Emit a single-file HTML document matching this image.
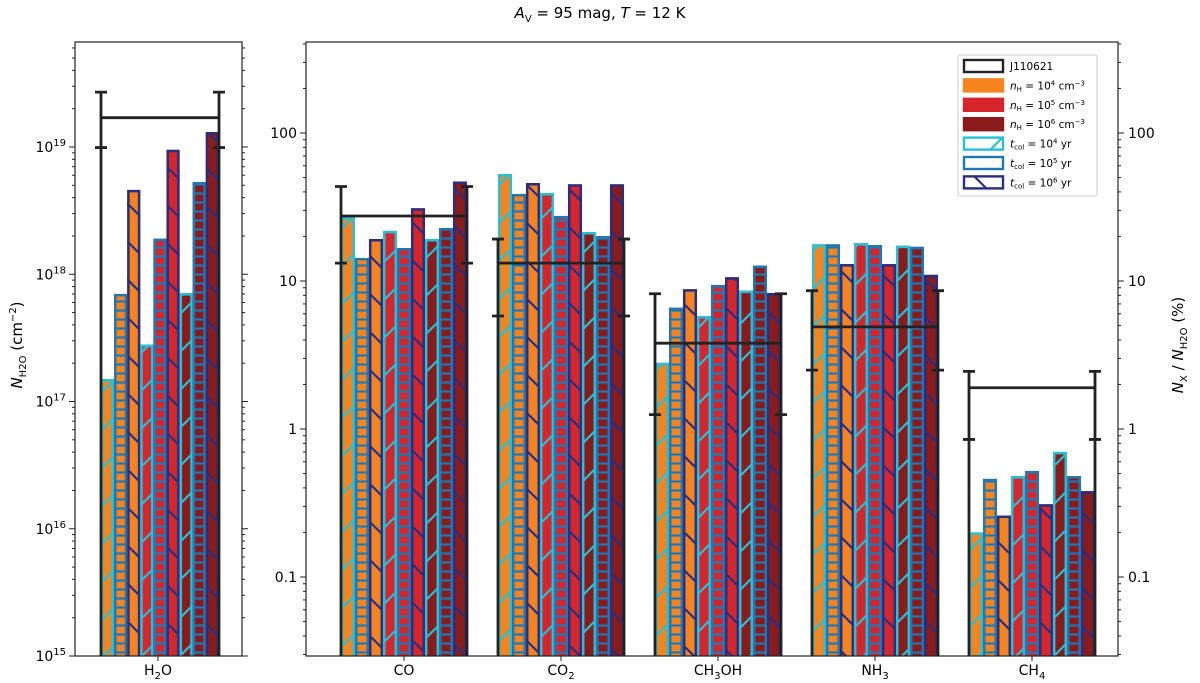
<!DOCTYPE html>
<html><head><meta charset="utf-8"><style>
body{margin:0;background:#fff}
svg{display:block;font-family:"DejaVu Sans","Liberation Sans",sans-serif}
</style></head><body>
<svg id="c" width="1200" height="683" viewBox="0 0 1200 683">
<defs>
<pattern id="hs" patternUnits="userSpaceOnUse" width="38" height="38"><path d="M-10,48 L48,-10 M-10,10 L10,-10 M28,48 L48,28" stroke="#27c0d6" stroke-width="2.2"/></pattern>
<pattern id="hh" patternUnits="userSpaceOnUse" width="10" height="9"><path d="M0,4.5 H10" stroke="#1f78b4" stroke-width="2.2"/></pattern>
<pattern id="hb" patternUnits="userSpaceOnUse" width="38" height="38"><path d="M-10,-10 L48,48 M28,-10 L48,10 M-10,28 L10,48" stroke="#2b2d7f" stroke-width="2.2"/></pattern>
<clipPath id="clipL"><rect x="75" y="42" width="167" height="614"/></clipPath>
<clipPath id="clipR"><rect x="306" y="42" width="812" height="614"/></clipPath>
</defs>
<text x="600" y="18" text-anchor="middle" font-size="15"><tspan font-style="italic">A</tspan><tspan font-size="10" dy="4">V</tspan><tspan dy="-4"> = 95 mag,  </tspan><tspan font-style="italic">T</tspan> = 12 K</text>
<g id="g"></g>
</svg>
<script>
const waterCategories=["H2O"];
const waterObs=[1.7e19];
const waterErrLo=[9.9e18];
const waterErrHi=[2.7e19];
const waterValues=[1.5e17,7e17,4.6e18,2.8e17,1.9e18,9.5e18,7.1e17,5.3e18,1.31e19];
const molCategories=["CO","CO2","CH3OH","NH3","CH4"];
const molObs=[27.5,13.2,3.8,4.9,1.9];
const molErrLo=[13.2,5.8,1.25,2.5,0.85];
const molErrHi=[43.5,19.2,8.2,8.6,2.45];
const molValues=[
 [27,14.3,19.2,21.8,16.7,31,19.2,22.8,47],
 [52.8,38.7,45.9,39.3,27.5,45,21.4,20.1,45],
 [2.8,6.6,8.8,5.8,9.4,10.6,8.6,12.7,8.3],
 [17.7,17.7,13,18,17.5,13,17.3,17,11],
 [0.2,0.46,0.26,0.48,0.52,0.31,0.7,0.48,0.38]];
const g=document.getElementById('g');
const NS="http://www.w3.org/2000/svg";
function el(t,a,p){const e=document.createElementNS(NS,t);for(const k in a)e.setAttribute(k,a[k]);(p||g).appendChild(e);return e;}
const fills=["#f5841f","#f5841f","#f5841f","#d7262b","#d7262b","#d7262b","#8b1a1a","#8b1a1a","#8b1a1a"];
const edges=["#27c0d6","#1f78b4","#2b2d7f"];
const hatch=["url(#hs)","url(#hh)","url(#hb)"];
const Y0=656;
function yL(v){return 656-(Math.log10(v)-15)*127.25;}
function yR(p){return 281-(Math.log10(p)-1)*148;}
const gL=el('g',{'clip-path':'url(#clipL)'});
const gR=el('g',{'clip-path':'url(#clipR)'});
function bars(vals,x0,bw,yf,name,par){
 vals.forEach((v,i)=>{const x=x0+i*bw,y=yf(v);
  const r=el('rect',{x:x,y:y,width:bw,height:Y0+10-y,fill:fills[i]},par);
  
  
  el('rect',{x:x,y:y,width:bw,height:Y0+10-y,fill:hatch[i%3]},par);
  el('rect',{x:x+1.2,y:y+1.2,width:bw-2.4,height:Y0+10-y,fill:'none',stroke:edges[i%3],'stroke-width':2.5},par);
 });}
function obs(x0,x1,yo,ylo,yhi,name){
 const o=el('g',{});
 
 
 const s={stroke:'#222','stroke-width':2.8,fill:'none'};
 el('path',Object.assign({d:`M${x0},${Y0} V${yhi} M${x1},${Y0} V${yhi} M${x0},${yo} H${x1} M${x0-6},${yhi} h12 M${x1-6},${yhi} h12 M${x0-6},${ylo} h12 M${x1-6},${ylo} h12`},s),o);
}
bars(waterValues,101,13.1,yL,'h2o',gL);
obs(101,219,yL(waterObs[0]),yL(waterErrLo[0]),yL(waterErrHi[0]),'h2o');
el('rect',{x:75,y:42,width:167,height:614,fill:'none',stroke:'#222','stroke-width':1.2});
for(let d=15;d<=19;d++){el('line',{x1:69,x2:75,y1:yL(10**d),y2:yL(10**d),stroke:'#222'});el('line',{x1:242,x2:248,y1:yL(10**d),y2:yL(10**d),stroke:'#222'});
 const t=el('text',{x:66,y:yL(10**d)+5,'text-anchor':'end','font-size':14});t.innerHTML='10<tspan font-size="10" dy="-6">'+d+'</tspan>';
 
 for(let m=2;m<10;m++){const y=yL(m*10**d);if(y<42)break;el('line',{x1:72,x2:75,y1:y,y2:y,stroke:'#222'});el('line',{x1:242,x2:245,y1:y,y2:y,stroke:'#222'});}}
el('line',{x1:158,x2:158,y1:656,y2:661,stroke:'#222'});
{const t=el('text',{x:158,y:675,'text-anchor':'middle','font-size':14});t.innerHTML='H<tspan font-size="10" dy="4">2</tspan><tspan dy="-4">O</tspan>';}
{const t=el('text',{transform:'translate(22,345) rotate(-90)','text-anchor':'middle','font-size':15});t.innerHTML='<tspan font-style="italic">N</tspan><tspan font-size="10" dy="4">H2O</tspan><tspan dy="-4">  (cm</tspan><tspan font-size="10" dy="-6">−2</tspan><tspan dy="6">)</tspan>';}
const gx0=341,gsp=157,bw=14;
const labs=['CO','CO<tspan font-size="10" dy="4">2</tspan>','CH<tspan font-size="10" dy="4">3</tspan><tspan dy="-4">OH</tspan>','NH<tspan font-size="10" dy="4">3</tspan>','CH<tspan font-size="10" dy="4">4</tspan>'];
molCategories.forEach((c,k)=>{const x0=gx0+k*gsp;
 bars(molValues[k],x0,bw,yR,c.toLowerCase(),gR);
 obs(x0,x0+9*bw,yR(molObs[k]),yR(molErrLo[k]),yR(molErrHi[k]),c.toLowerCase());
 const xc=x0+4.5*bw;el('line',{x1:xc,x2:xc,y1:656,y2:661,stroke:'#222'});
 const t=el('text',{x:xc,y:675,'text-anchor':'middle','font-size':14});t.innerHTML=labs[k];
 
});
el('rect',{x:306,y:42,width:812,height:614,fill:'none',stroke:'#222','stroke-width':1.2});
const rt=[0.1,1,10,100],rl=['0.1','1','10','100'];
rt.forEach((v,i)=>{const y=yR(v);el('line',{x1:300,x2:306,y1:y,y2:y,stroke:'#222'});el('line',{x1:1118,x2:1124,y1:y,y2:y,stroke:'#222'});
 const a=el('text',{x:297,y:y+5,'text-anchor':'end','font-size':14});a.textContent=rl[i];
 const b=el('text',{x:1128,y:y+5,'font-size':14});b.textContent=rl[i];});
for(let d=-2;d<=2;d++)for(let m=2;m<10;m++){const y=yR(m*10**d);if(y<42||y>656)continue;el('line',{x1:303,x2:306,y1:y,y2:y,stroke:'#222'});el('line',{x1:1118,x2:1121,y1:y,y2:y,stroke:'#222'});}
{const t=el('text',{transform:'translate(1183,345) rotate(-90)','text-anchor':'middle','font-size':15});t.innerHTML='<tspan font-style="italic">N</tspan><tspan font-size="10" dy="4">X</tspan><tspan dy="-4"> / </tspan><tspan font-style="italic">N</tspan><tspan font-size="10" dy="4">H2O</tspan><tspan dy="-4">  (%)</tspan>';}
const lg=el('g',{});
el('rect',{x:958,y:55,width:139,height:141,fill:'#fff',stroke:'#ccc',rx:2},lg);
const items=[['none','#222','none','J110621'],['#f5841f','#f5841f','none','<tspan font-style="italic">n</tspan><tspan font-size="7" dy="2">H</tspan><tspan dy="-2"> = 10</tspan><tspan font-size="7" dy="-4">4</tspan><tspan dy="4"> cm</tspan><tspan font-size="7" dy="-4">−3</tspan>'],
['#d7262b','#d7262b','none','<tspan font-style="italic">n</tspan><tspan font-size="7" dy="2">H</tspan><tspan dy="-2"> = 10</tspan><tspan font-size="7" dy="-4">5</tspan><tspan dy="4"> cm</tspan><tspan font-size="7" dy="-4">−3</tspan>'],
['#8b1a1a','#8b1a1a','none','<tspan font-style="italic">n</tspan><tspan font-size="7" dy="2">H</tspan><tspan dy="-2"> = 10</tspan><tspan font-size="7" dy="-4">6</tspan><tspan dy="4"> cm</tspan><tspan font-size="7" dy="-4">−3</tspan>'],
['none','#27c0d6','url(#hs)','<tspan font-style="italic">t</tspan><tspan font-size="7" dy="2">col</tspan><tspan dy="-2"> = 10</tspan><tspan font-size="7" dy="-4">4</tspan><tspan dy="4"> yr</tspan>'],
['none','#1f78b4','none','<tspan font-style="italic">t</tspan><tspan font-size="7" dy="2">col</tspan><tspan dy="-2"> = 10</tspan><tspan font-size="7" dy="-4">5</tspan><tspan dy="4"> yr</tspan>'],
['none','#2b2d7f','url(#hb)','<tspan font-style="italic">t</tspan><tspan font-size="7" dy="2">col</tspan><tspan dy="-2"> = 10</tspan><tspan font-size="7" dy="-4">6</tspan><tspan dy="4"> yr</tspan>']];
items.forEach((it,i)=>{const y=60+i*19.4;
 el('rect',{x:964,y:y,width:39,height:12,fill:it[0],stroke:it[1],'stroke-width':2.4},lg);
 if(it[2]!=='none')el('rect',{x:964,y:y,width:39,height:12,fill:it[2]},lg);
 const t=el('text',{x:1010,y:y+10,'font-size':10.5},lg);t.innerHTML=it[3];
 });
</script>
</body></html>
